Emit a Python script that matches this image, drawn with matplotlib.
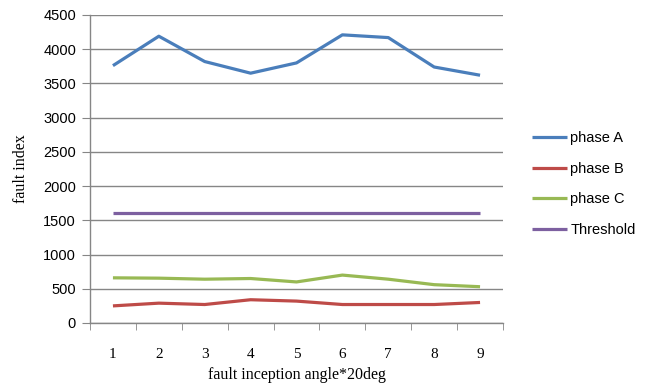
import matplotlib
matplotlib.use('Agg')
import matplotlib.pyplot as plt

# values
angles = [1, 2, 3, 4, 5, 6, 7, 8, 9]
phase_a = [3760, 4190, 3820, 3650, 3800, 4210, 4170, 3740, 3620]
phase_b = [250, 290, 270, 340, 320, 270, 270, 270, 300]
phase_c = [660, 655, 640, 650, 600, 700, 640, 560, 530]
threshold = [1600] * 9
y_ticks = [0, 500, 1000, 1500, 2000, 2500, 3000, 3500, 4000, 4500]

series = [
    ('phase A', phase_a, '#4A7EBB'),
    ('phase B', phase_b, '#BE4B48'),
    ('phase C', phase_c, '#98B954'),
    ('Threshold', threshold, '#7D60A0'),
]

fig = plt.figure(figsize=(6.52, 3.87), dpi=100)
ax = fig.add_axes([90 / 652, 1 - 323 / 387, 413 / 652, 308 / 387])

for name, vals, color in series:
    ax.plot(angles, vals, color=color, linewidth=2.3, label=name,
            solid_capstyle='butt')

ax.set_xlim(0.5, 9.5)
ax.set_ylim(0, 4500)
ax.set_yticks(y_ticks)
ax.set_xticks(angles)
ax.set_xticks([a + 0.5 for a in [0] + angles], minor=True)
ax.grid(axis='y', color='#868686', linewidth=1)
ax.set_axisbelow(True)

for s in ['top', 'right']:
    ax.spines[s].set_visible(False)
for s in ['left', 'bottom']:
    ax.spines[s].set_color('#868686')
    ax.spines[s].set_linewidth(1)

ax.tick_params(axis='y', length=6, color='#868686', labelsize=10.5, pad=4)
ax.tick_params(axis='x', which='major', length=0, pad=18)
ax.tick_params(axis='x', which='minor', length=5, color='#868686')
for lab in ax.get_yticklabels():
    lab.set_family(['Liberation Sans', 'DejaVu Sans'])
for lab in ax.get_xticklabels():
    lab.set_family(['Liberation Serif', 'DejaVu Serif'])
    lab.set_fontsize(11)

ax.set_ylabel('fault index', family='Liberation Serif', fontsize=11.5, labelpad=10)
ax.set_xlabel('fault inception angle*20deg', family='Liberation Serif',
              fontsize=11.5, labelpad=4)

fig.legend(loc='upper left', bbox_to_anchor=(525 / 652, 1 - 124 / 387),
           frameon=False, prop={'family': 'Liberation Sans', 'size': 10.5},
           handlelength=2.4, handletextpad=0.2, labelspacing=1.13,
           borderpad=0)

fig.savefig('out.png', dpi=100)
